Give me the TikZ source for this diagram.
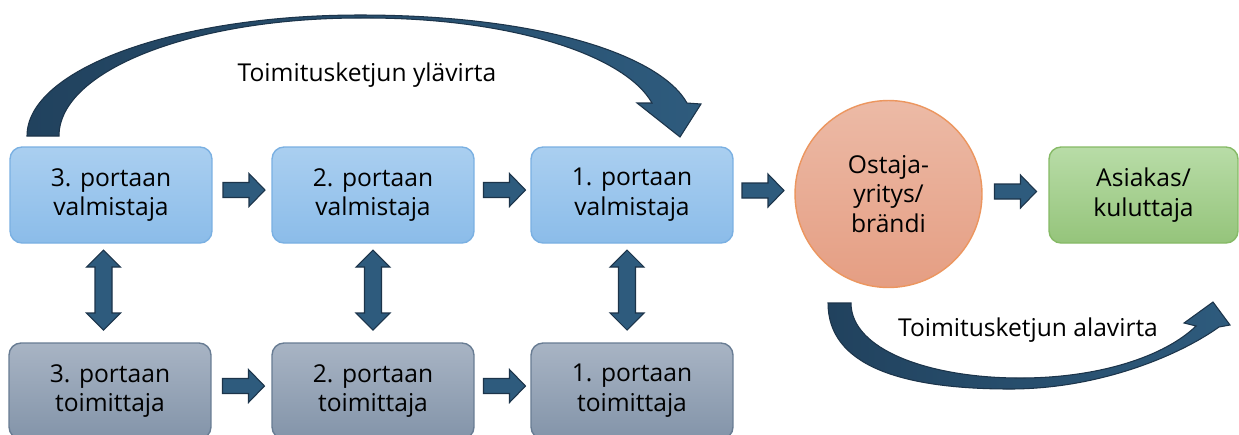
\documentclass[tikz,border=0pt]{standalone}
\usepackage{fontspec}
\setmainfont{Open Sans}
\usetikzlibrary{calc}
\definecolor{arrfill}{RGB}{46,91,125}
\definecolor{arrfillL}{RGB}{33,66,94}
\definecolor{arrline}{RGB}{28,52,74}
\definecolor{blueT}{RGB}{170,207,240}
\definecolor{blueB}{RGB}{139,188,233}
\definecolor{blueE}{RGB}{122,176,226}
\definecolor{grayT}{RGB}{168,180,196}
\definecolor{grayB}{RGB}{131,148,169}
\definecolor{grayE}{RGB}{104,124,147}
\definecolor{redT}{RGB}{236,186,166}
\definecolor{redB}{RGB}{229,158,131}
\definecolor{redE}{RGB}{236,150,95}
\definecolor{greenT}{RGB}{184,220,167}
\definecolor{greenB}{RGB}{149,196,123}
\definecolor{greenE}{RGB}{134,186,102}
\tikzset{
  txt/.style={font=\fontsize{14}{17}\selectfont, align=center, text=black},
  bbox/.style={txt, rectangle, rounded corners=0.24cm, line width=0.8pt,
    minimum width=4.04cm, minimum height=1.92cm, inner sep=0pt},
  bluebox/.style={bbox, draw=blueE, top color=blueT, bottom color=blueB},
  graybox/.style={bbox, draw=grayE, top color=grayT, bottom color=grayB},
  greenbox/.style={bbox, draw=greenE, top color=greenT, bottom color=greenB, minimum width=3.78cm},
  buyer/.style={txt, circle, draw=redE, line width=0.8pt, top color=redT, bottom color=redB,
    minimum size=3.74cm, inner sep=0pt, font=\fontsize{14}{17}\selectfont},
  arr/.style={fill=arrfill, draw=arrline, line width=0.6pt, line join=miter},
  lbl/.style={font=\fontsize{14}{17}\selectfont, text=black, inner sep=0pt},
  harr/.pic={\draw[arr] (-21,-7.5) -- (5,-7.5) -- (5,-16.5) -- (21,0) -- (5,16.5) -- (5,7.5) -- (-21,7.5) -- cycle;},
  varr/.pic={\draw[arr] (0,-40) -- (17,-23) -- (8.5,-23) -- (8.5,23) -- (17,23) -- (0,40) -- (-17,23) -- (-8.5,23) -- (-8.5,-23) -- (-17,-23) -- cycle;}
}
\begin{document}
\begin{tikzpicture}[x=0.02cm, y=-0.02cm]
\clip (0,0) rectangle (1239,434);
\fill[white] (0,0) rectangle (1239,434);

% nodes
\node[bluebox] (v3) at (111,195) {3. portaan\\valmistaja};
\node[bluebox] (v2) at (373,195) {2. portaan\\valmistaja};
\node[bluebox] (v1) at (632,195) {1. portaan\\valmistaja};
\node[graybox] (t3) at (110,391) {3. portaan\\toimittaja};
\node[graybox] (t2) at (373,391) {2. portaan\\toimittaja};
\node[graybox] (t1) at (632,391) {1. portaan\\toimittaja};
\node[buyer] (b) at (888.5,194) {Ostaja-\\yritys/\\brändi};
\node[greenbox] (c) at (1143.5,195) {Asiakas/\\kuluttaja};

% horizontal block arrows
\pic at ($(v3.east)!0.5!(v2.west)+(2,-5)$) {harr};
\pic at ($(v2.east)!0.5!(v1.west)+(2,-5)$) {harr};
\pic at ($(v1.east)!0.5!(b.west)+(-1,-4)$) {harr};
\pic at ($(b.east)!0.5!(c.west)+(0,-3)$) {harr};
\pic at ($(t3.east)!0.5!(t2.west)+(2,-5)$) {harr};
\pic at ($(t2.east)!0.5!(t1.west)+(2,-5)$) {harr};

% vertical double arrows
\pic at ($(v3.south)!0.5!(t3.north)+(-7,-3)$) {varr};
\pic at ($(v2.south)!0.5!(t2.north)+(0,-3)$) {varr};
\pic at ($(v1.south)!0.5!(t1.north)+(-5,-3)$) {varr};

% upper curved arrow (upstream)
\path[draw=arrline, line width=0.6pt, left color=arrfillL, right color=arrfill]
  (27,136) .. controls (27,69) and (176,15) .. (360,15)
  .. controls (540,15) and (660,55) .. (687,103)
  -- (701,104) -- (680,137) -- (637,103) -- (652,103)
  .. controls (625,55) and (510,17) .. (360,18)
  .. controls (194,18) and (59,70) .. (59,136) -- cycle;
\node[lbl] (up) at (367,75) {Toimitusketjun ylävirta};

% lower curved arrow (downstream)
\path[draw=arrline, line width=0.6pt, left color=arrfillL, right color=arrfill]
  (828,303) .. controls (828,365) and (900,389) .. (1010,389)
  .. controls (1100,389) and (1180,355) .. (1219,327)
  -- (1230,325) -- (1213,302) -- (1184,323) -- (1196,326)
  .. controls (1165,356) and (1100,378) .. (1020,378)
  .. controls (930,378) and (851,350) .. (851,303) -- cycle;
\node[lbl] (down) at (1028,330) {Toimitusketjun alavirta};
\end{tikzpicture}
\end{document}
